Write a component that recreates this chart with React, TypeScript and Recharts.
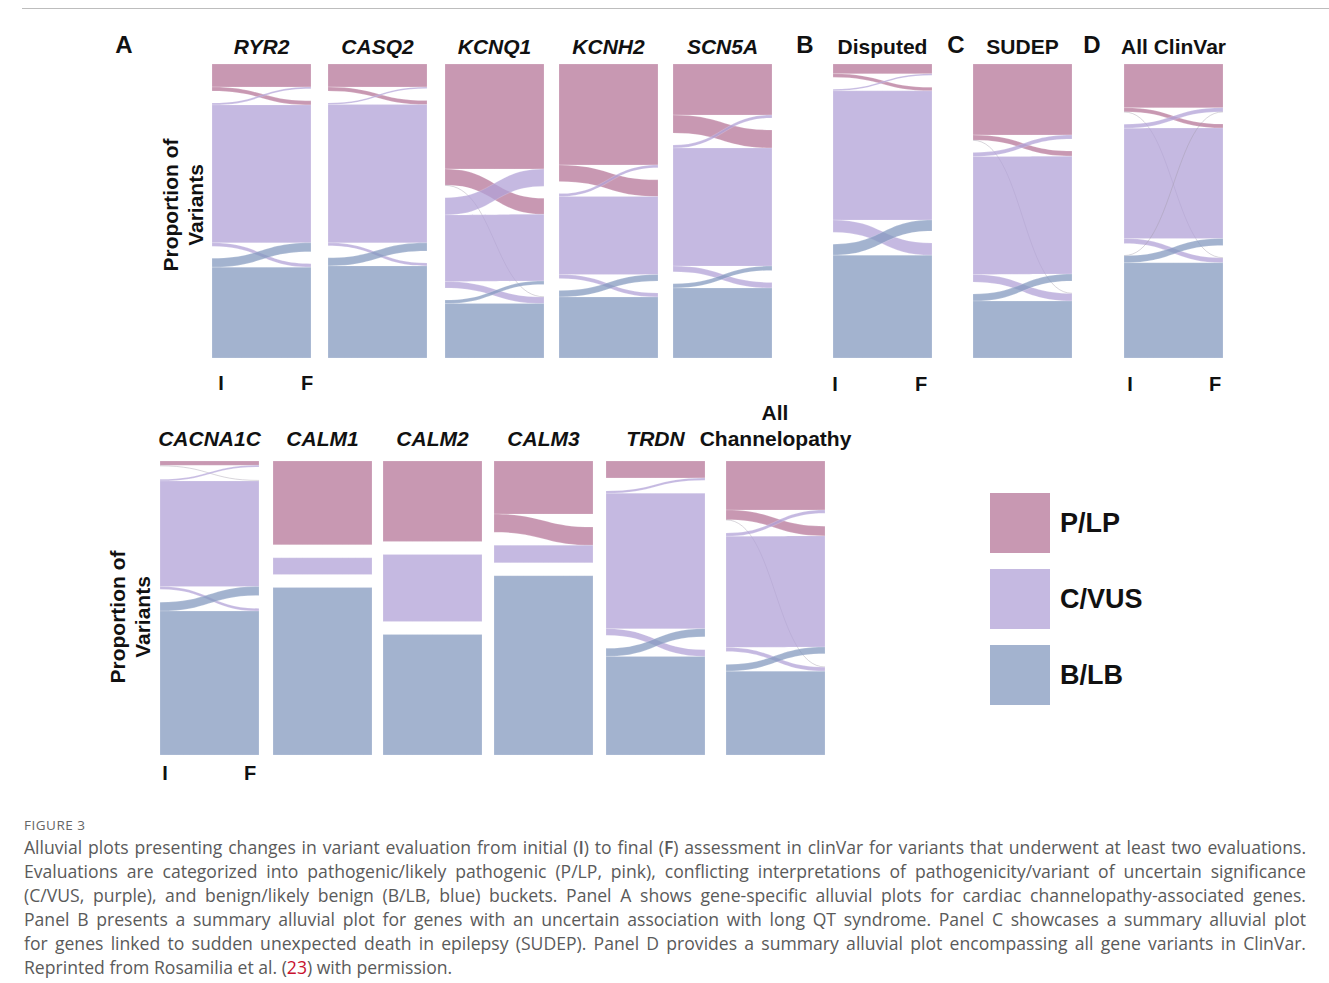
import React from "react";
import { Sankey } from "recharts";

// classes, in stacking order (top to bottom)
const categories = ["P/LP", "C/VUS", "B/LB"];
const stages = ["I", "F"];

// flows between initial (rows) and final (cols) class, % of variants
const ryr2Flows = [[8.5, 1.5, 0], [0.7, 51.0, 1.3], [0, 3.3, 33.6]];
const casq2Flows = [[8.5, 1.5, 0], [0.6, 51.2, 1.1], [0, 3.0, 34.1]];
const kcnq1Flows = [[38.9, 6.0, 0.2], [6.4, 24.7, 2.4], [0, 1.3, 20.2]];
const kcnh2Flows = [[37.4, 6.2, 0], [1.1, 28.9, 1.5], [0, 2.4, 22.6]];
const scn5aFlows = [[18.9, 6.7, 0], [1.1, 43.7, 2.1], [0, 1.6, 25.9]];
const disputedFlows = [[3.6, 1.3, 0], [0.6, 47.9, 4.5], [0, 4.1, 38.1]];
const sudepFlows = [[26.3, 1.9, 0.15], [1.5, 43.7, 2.8], [0, 2.6, 21.1]];
const clinvarFlows = [[16.2, 1.5, 0.15], [1.5, 40.9, 1.8], [0.1, 2.6, 35.3]];
const cacna1cFlows = [[1.6, 0.4, 0], [0.6, 39.4, 1.0], [0, 3.3, 53.7]];
const calm1Flows = [[31.25, 0, 0], [0, 6.25, 0], [0, 0, 62.5]];
const calm2Flows = [[30, 0, 0], [0, 25, 0], [0, 0, 45]];
const calm3Flows = [[19.8, 6.8, 0], [0, 6.5, 0], [0, 0, 66.9]];
const trdnFlows = [[6.3, 0, 0], [0.9, 50.5, 2.5], [0, 3.0, 36.8]];
const allChannelFlows = [[18.3, 3.6, 0.15], [1.2, 41.5, 1.5], [0, 2.5, 31.3]];

const COLORS = ["#b67698", "#b2a2d7", "#849abf"];
const FLOW_OPACITY = 0.75;

type Panel = {
  title: string;
  italic: boolean;
  flows: number[][];
  x: number;
  y: number;
  pad: number;
};

const TOP = 64;
const BOTTOM = 461;
const PW = 99;
const PH = 294;

const panels: Panel[] = [
  { title: "RYR2", italic: true, flows: ryr2Flows, x: 212, y: TOP, pad: 12 },
  { title: "CASQ2", italic: true, flows: casq2Flows, x: 328, y: TOP, pad: 12 },
  { title: "KCNQ1", italic: true, flows: kcnq1Flows, x: 445, y: TOP, pad: 12 },
  { title: "KCNH2", italic: true, flows: kcnh2Flows, x: 559, y: TOP, pad: 12 },
  { title: "SCN5A", italic: true, flows: scn5aFlows, x: 673, y: TOP, pad: 12 },
  { title: "Disputed", italic: false, flows: disputedFlows, x: 833, y: TOP, pad: 12 },
  { title: "SUDEP", italic: false, flows: sudepFlows, x: 973, y: TOP, pad: 12 },
  { title: "All ClinVar", italic: false, flows: clinvarFlows, x: 1124, y: TOP, pad: 12 },
  { title: "CACNA1C", italic: true, flows: cacna1cFlows, x: 160, y: BOTTOM, pad: 13 },
  { title: "CALM1", italic: true, flows: calm1Flows, x: 273, y: BOTTOM, pad: 13 },
  { title: "CALM2", italic: true, flows: calm2Flows, x: 383, y: BOTTOM, pad: 13 },
  { title: "CALM3", italic: true, flows: calm3Flows, x: 494, y: BOTTOM, pad: 13 },
  { title: "TRDN", italic: true, flows: trdnFlows, x: 606, y: BOTTOM, pad: 13 },
  { title: "Channelopathy", italic: false, flows: allChannelFlows, x: 726, y: BOTTOM, pad: 13 },
];

function toSankey(flows: number[][]) {
  const nodes = stages.flatMap((s) =>
    categories.map((c, i) => ({ name: `${s} ${c}`, cat: i }))
  );
  const links: { source: number; target: number; value: number; cat: number }[] = [];
  flows.forEach((row, i) =>
    row.forEach((v, j) => {
      if (v > 0) links.push({ source: i, target: 3 + j, value: v, cat: i });
    })
  );
  return { nodes, links };
}

function FlowLink(props: any) {
  const { sourceX, targetX, sourceY, targetY, sourceControlX, targetControlX, linkWidth, payload } = props;
  const h = linkWidth / 2;
  const cat = payload?.cat ?? 0;
  if (linkWidth < 1.2) {
    // hairline flows show up as a grey thread
    const c = `M${sourceX},${sourceY} C${sourceControlX},${sourceY} ${targetControlX},${targetY} ${targetX},${targetY}`;
    return <path d={c} fill="none" stroke="#a09aa8" strokeWidth={0.7} strokeOpacity={0.6} />;
  }
  const d =
    `M${sourceX},${sourceY - h} C${sourceControlX},${sourceY - h} ${targetControlX},${targetY - h} ${targetX},${targetY - h}` +
    ` L${targetX},${targetY + h} C${targetControlX},${targetY + h} ${sourceControlX},${sourceY + h} ${sourceX},${sourceY + h} Z`;
  return (
    <path
      d={d}
      fill={COLORS[cat]}
      fillOpacity={FLOW_OPACITY}
      stroke="#ffffff"
      strokeOpacity={0.35}
      strokeWidth={0.5}
    />
  );
}

function Txt({ x, y, children, style }: { x: number; y: number; children: React.ReactNode; style?: React.CSSProperties }) {
  return (
    <div
      style={{
        position: "absolute",
        left: x,
        top: y,
        transform: "translate(-50%, -50%)",
        whiteSpace: "nowrap",
        fontFamily: "'Liberation Sans', Arial, sans-serif",
        fontWeight: 700,
        color: "#111",
        ...style,
      }}
    >
      {children}
    </div>
  );
}

function YLabel({ x, y }: { x: number; y: number }) {
  return (
    <div
      style={{
        position: "absolute",
        left: x - 100,
        top: y - 26,
        width: 200,
        height: 52,
        transform: "rotate(-90deg)",
        textAlign: "center",
        fontFamily: "'Liberation Sans', Arial, sans-serif",
        fontWeight: 700,
        fontSize: 21,
        lineHeight: "25px",
        color: "#111",
      }}
    >
      Proportion of
      <br />
      Variants
    </div>
  );
}

const captionLines = [
  "Evaluations are categorized into pathogenic/likely pathogenic (P/LP, pink), conflicting interpretations of pathogenicity/variant of uncertain significance",
  "(C/VUS, purple), and benign/likely benign (B/LB, blue) buckets. Panel A shows gene-specific alluvial plots for cardiac channelopathy-associated genes.",
  "Panel B presents a summary alluvial plot for genes with an uncertain association with long QT syndrome. Panel C showcases a summary alluvial plot",
  "for genes linked to sudden unexpected death in epilepsy (SUDEP). Panel D provides a summary alluvial plot encompassing all gene variants in ClinVar.",
];

const captionLine: React.CSSProperties = {
  height: 24,
  lineHeight: "24px",
  textAlign: "justify",
  textAlignLast: "justify",
  whiteSpace: "nowrap",
};

export default function App() {
  const titleFont = 21;
  return (
    <div
      style={{
        position: "absolute",
        left: 0,
        top: 0,
        width: 1329,
        height: 983,
        background: "#fff",
        overflow: "hidden",
      }}
    >
      {/* frame */}
      <div style={{ position: "absolute", left: 22, top: 8, width: 1307, height: 1, background: "#bdbdbd" }} />

      {panels.map((p) => (
        <div key={p.title} style={{ position: "absolute", left: p.x, top: p.y }}>
          <Sankey
            width={PW}
            height={PH}
            data={toSankey(p.flows)}
            nodeWidth={0}
            nodePadding={p.pad}
            iterations={0}
            sort={false}
            linkCurvature={0.5}
            margin={{ top: 0, right: 0, bottom: 0, left: 0 }}
            node={() => <g />}
            link={(lp: any) => <FlowLink {...lp} />}
          />
        </div>
      ))}

      {/* panel letters */}
      <Txt x={124} y={45} style={{ fontSize: 24 }}>A</Txt>
      <Txt x={805} y={45} style={{ fontSize: 24 }}>B</Txt>
      <Txt x={956} y={45} style={{ fontSize: 24 }}>C</Txt>
      <Txt x={1092} y={45} style={{ fontSize: 24 }}>D</Txt>

      {/* titles */}
      {panels.map((p) => (
        <Txt
          key={`t-${p.title}`}
          x={p.x + PW / 2}
          y={p.y === TOP ? 47 : 439}
          style={{ fontSize: titleFont, fontStyle: p.italic ? "italic" : "normal" }}
        >
          {p.title}
        </Txt>
      ))}
      <Txt x={775} y={413} style={{ fontSize: titleFont }}>All</Txt>

      <YLabel x={184} y={205} />
      <YLabel x={131} y={617} />

      {/* stage labels */}
      <Txt x={221} y={383} style={{ fontSize: 20 }}>{stages[0]}</Txt>
      <Txt x={307} y={383} style={{ fontSize: 20 }}>{stages[1]}</Txt>
      <Txt x={835} y={384} style={{ fontSize: 20 }}>{stages[0]}</Txt>
      <Txt x={921} y={384} style={{ fontSize: 20 }}>{stages[1]}</Txt>
      <Txt x={1130} y={384} style={{ fontSize: 20 }}>{stages[0]}</Txt>
      <Txt x={1215} y={384} style={{ fontSize: 20 }}>{stages[1]}</Txt>
      <Txt x={165} y={773} style={{ fontSize: 20 }}>{stages[0]}</Txt>
      <Txt x={250} y={773} style={{ fontSize: 20 }}>{stages[1]}</Txt>

      {/* legend */}
      {categories.map((c, i) => (
        <React.Fragment key={c}>
          <div
            style={{
              position: "absolute",
              left: 990,
              top: 493 + i * 76,
              width: 60,
              height: 60,
              background: COLORS[i],
              opacity: FLOW_OPACITY,
            }}
          />
          <Txt x={1060} y={523 + i * 76} style={{ fontSize: 27, transform: "translate(0, -50%)" }}>
            {c}
          </Txt>
        </React.Fragment>
      ))}

      {/* caption */}
      <div
        style={{
          position: "absolute",
          left: 24,
          top: 815,
          width: 1282,
          fontFamily: "'Open Sans', 'Noto Sans', sans-serif",
          color: "#5a5a5a",
          fontSize: 17.6,
        }}
      >
        <div style={{ fontSize: 13.5, letterSpacing: 0.5, height: 20, lineHeight: "20px", color: "#666" }}>FIGURE 3</div>
        <div style={captionLine}>
          Alluvial plots presenting changes in variant evaluation from initial (<b style={{ fontWeight: 600 }}>I</b>) to final (
          <b style={{ fontWeight: 600 }}>F</b>) assessment in clinVar for variants that underwent at least two evaluations.
        </div>
        {captionLines.map((l) => (
          <div key={l} style={captionLine}>
            {l}
          </div>
        ))}
        <div style={{ height: 24, lineHeight: "24px" }}>
          Reprinted from Rosamilia et al. (<span style={{ color: "#c8102e" }}>23</span>) with permission.
        </div>
      </div>
    </div>
  );
}
